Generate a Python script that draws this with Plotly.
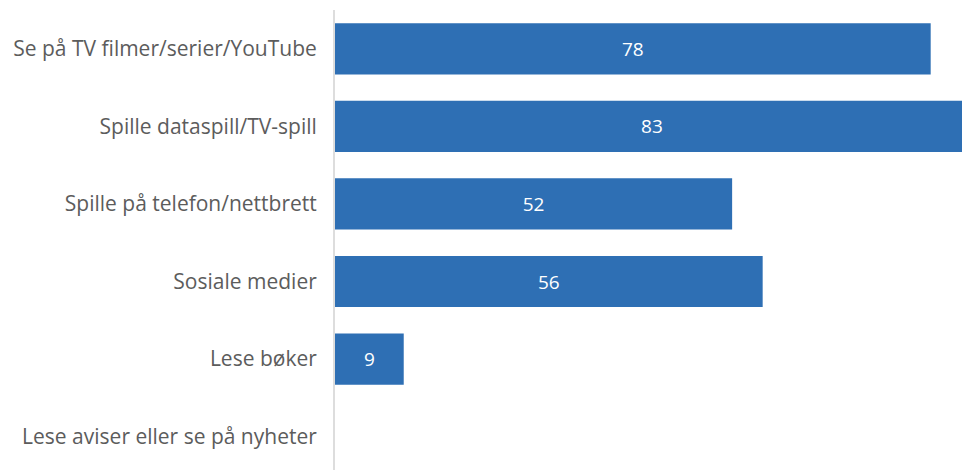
import plotly.graph_objects as go

categories = [
    "Se på TV filmer/serier/YouTube",
    "Spille dataspill/TV-spill",
    "Spille på telefon/nettbrett",
    "Sosiale medier",
    "Lese bøker",
    "Lese aviser eller se på nyheter",
]
values = [78, 83, 52, 56, 9, 0]
labels = ["78", "83", "52", "56", "9", ""]

FONT = "Open Sans"

fig = go.Figure(go.Bar(
    y=categories, x=values, orientation="h",
    marker=dict(color="#2e6fb4", line=dict(width=0)),
    text=labels, textposition="inside", insidetextanchor="middle",
    textfont=dict(color="white", size=19, family=FONT),
))
fig.update_layout(
    width=962, height=470,
    margin=dict(l=335, r=0, t=10, b=0),
    plot_bgcolor="white", paper_bgcolor="white",
    bargap=0.34,
    showlegend=False,
    font=dict(family=FONT, color="#5c5c5c", size=21),
    uniformtext=dict(mode="show", minsize=19),
)
fig.update_xaxes(range=[0, 82.1], visible=False)
fig.update_yaxes(
    categoryorder="array", categoryarray=categories,
    range=[5.43, -0.5], showgrid=False, zeroline=False,
    showline=True, linecolor="#dddddd", linewidth=2,
    ticks="", ticklabelstandoff=12,
    tickfont=dict(size=21, color="#5c5c5c", family=FONT),
)
fig.write_html(
    "out.html",
    config={"displayModeBar": False},
    post_script="document.body.style.margin='0';document.body.style.overflow='hidden';",
)
